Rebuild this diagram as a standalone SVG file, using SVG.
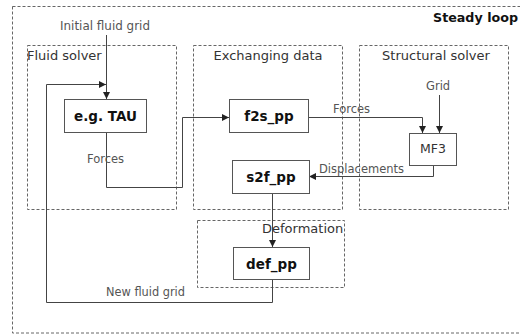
<svg xmlns="http://www.w3.org/2000/svg" width="520" height="334" viewBox="0 0 520 334">
<style>
.grp{fill:none;stroke:#666;stroke-width:1;stroke-dasharray:3,2}
.box{fill:#fff;stroke:#555;stroke-width:1}
.ln{fill:none;stroke:#444;stroke-width:1}
.t{font-family:"DejaVu Sans",Verdana,sans-serif;font-size:11.5px;fill:#555}
.tg{font-family:"DejaVu Sans",Verdana,sans-serif;font-size:13px;fill:#333}
.b{font-family:"DejaVu Sans",Verdana,sans-serif;font-size:13.5px;font-weight:bold;fill:#111;text-anchor:middle}
</style>
<defs>
<marker id="ah" viewBox="0 0 10 10" refX="10" refY="5" markerWidth="7" markerHeight="7" markerUnits="userSpaceOnUse" orient="auto">
<path d="M0,0 L10,5 L0,10 z" fill="#222"/>
</marker>
</defs>
<rect width="520" height="334" fill="#fff"/>
<g id="steady-loop">
<rect class="grp" x="12.5" y="6.5" width="520" height="326.5"/>
<text x="433" y="22" textLength="85" lengthAdjust="spacingAndGlyphs" style="font-family:'DejaVu Sans',Verdana,sans-serif;font-size:13px;font-weight:bold;fill:#111">Steady loop</text>
</g>
<g id="fluid-solver">
<rect class="grp" x="27.5" y="45.5" width="149" height="164"/>
<text class="tg" x="27" y="60">Fluid solver</text>
</g>
<g id="exchanging-data">
<rect class="grp" x="193.5" y="45.5" width="149" height="164"/>
<text class="tg" x="268" y="60" text-anchor="middle">Exchanging data</text>
</g>
<g id="structural-solver">
<rect class="grp" x="359.5" y="45.5" width="149" height="164"/>
<text class="tg" x="436" y="60" text-anchor="middle">Structural solver</text>
</g>
<g id="deformation">
<rect class="grp" x="197.5" y="220.5" width="147" height="67"/>
<text class="tg" x="262" y="233">Deformation</text>
</g>
<g id="connectors">
<path class="ln" d="M106.5,35 V99" marker-end="url(#ah)"/>
<path class="ln" d="M272.5,279 V302.5 H46.5 V84.5 H106" marker-end="url(#ah)"/>
<path class="ln" d="M106.5,132 V187.5 H182.5 V117.5 H229" marker-end="url(#ah)"/>
<path class="ln" d="M308,117.5 H422.5 V133" marker-end="url(#ah)"/>
<path class="ln" d="M439.5,95 V133" marker-end="url(#ah)"/>
<path class="ln" d="M433.5,165 V176.5 H309" marker-end="url(#ah)"/>
<path class="ln" d="M272.5,193 V247" marker-end="url(#ah)"/>
<text class="t" x="105" y="30" text-anchor="middle" textLength="90" lengthAdjust="spacingAndGlyphs">Initial fluid grid</text>
<text class="t" x="87" y="163">Forces</text>
<text class="t" x="333" y="113">Forces</text>
<text class="t" x="426" y="90">Grid</text>
<text class="t" x="319" y="173" textLength="85" lengthAdjust="spacingAndGlyphs">Displacements</text>
<text class="t" x="106" y="296" textLength="79" lengthAdjust="spacingAndGlyphs">New fluid grid</text>
</g>
<g id="tau">
<rect class="box" x="64.5" y="99.5" width="82" height="33"/>
<text class="b" x="105.5" y="121">e.g. TAU</text>
</g>
<g id="f2s_pp">
<rect class="box" x="229.5" y="99.5" width="79" height="33"/>
<text class="b" x="269" y="121">f2s_pp</text>
</g>
<g id="mf3">
<rect class="box" x="409.5" y="133.5" width="47" height="32"/>
<text class="tg" x="433" y="153" text-anchor="middle" style="font-size:12.5px">MF3</text>
</g>
<g id="s2f_pp">
<rect class="box" x="232.5" y="160.5" width="77" height="33"/>
<text class="b" x="271" y="182">s2f_pp</text>
</g>
<g id="def_pp">
<rect class="box" x="233.5" y="247.5" width="76" height="32"/>
<text class="b" x="271.5" y="269">def_pp</text>
</g>
</svg>
